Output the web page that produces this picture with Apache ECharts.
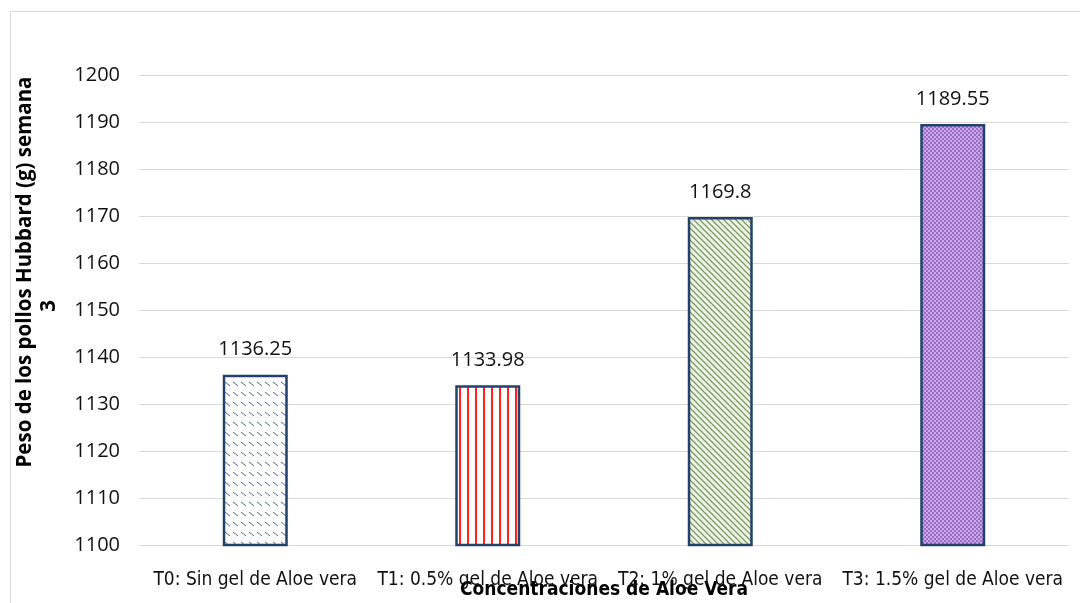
<!DOCTYPE html>
<html>
<head>
<meta charset="utf-8">
<script src="https://cdn.jsdelivr.net/npm/echarts@6/dist/echarts.min.js"></script>
<style>
  html, body { margin: 0; padding: 0; background: #fff; }
  #chart { width: 1080px; height: 603px; }
</style>
</head>
<body>
<div id="chart"></div>
<script>
// datos
var categorias = ['T0: Sin gel de Aloe vera', 'T1: 0.5% gel de Aloe vera', 'T2: 1% gel de Aloe vera', 'T3: 1.5% gel de Aloe vera'];
var pesos = [1136.25, 1133.98, 1169.8, 1189.55];
var etiquetas = ['1136.25', '1133.98', '1169.8', '1189.55'];

// patrones de relleno (como en Excel)
function patron(w, h, draw) {
    var c = document.createElement('canvas');
    c.width = w; c.height = h;
    var ctx = c.getContext('2d');
    draw(ctx);
    return { image: c, repeat: 'repeat' };
}
var pT0 = patron(8, 10, function (ctx) {
    ctx.fillStyle = '#ffffff'; ctx.fillRect(0, 0, 8, 10);
    ctx.strokeStyle = '#4a6a96'; ctx.lineWidth = 1;
    ctx.beginPath(); ctx.moveTo(1, 2); ctx.lineTo(6, 6); ctx.stroke();
});
var pT1 = patron(8, 8, function (ctx) {
    ctx.fillStyle = '#ffffff'; ctx.fillRect(0, 0, 8, 8);
    ctx.fillStyle = '#ff2020'; ctx.fillRect(3, 0, 2, 8);
});
var pT2 = patron(6, 6, function (ctx) {
    ctx.fillStyle = '#eef5e4'; ctx.fillRect(0, 0, 6, 6);
    ctx.strokeStyle = '#7d9a68'; ctx.lineWidth = 1.3;
    ctx.beginPath(); ctx.moveTo(0, 0); ctx.lineTo(6, 6); ctx.stroke();
    ctx.beginPath(); ctx.moveTo(-3, 3); ctx.lineTo(3, 9); ctx.stroke();
    ctx.beginPath(); ctx.moveTo(3, -3); ctx.lineTo(9, 3); ctx.stroke();
});
var pT3 = patron(4, 4, function (ctx) {
    ctx.fillStyle = '#c9a8e6'; ctx.fillRect(0, 0, 4, 4);
    ctx.fillStyle = '#9a6cc8';
    ctx.fillRect(0, 0, 2, 2); ctx.fillRect(2, 2, 2, 2);
});
var rellenos = [pT0, pT1, pT2, pT3];

var chart = echarts.init(document.getElementById('chart'));
var option = {
    backgroundColor: '#ffffff',
    animation: false,
    grid: { left: 139, right: 11, top: 75, bottom: 58, outerBoundsMode: 'none', containLabel: false },
    graphic: [
        { type: 'rect', left: 8, top: 9, shape: { width: 1200, height: 700 },
          style: { fill: 'none', stroke: '#d9d9d9', lineWidth: 1 } },
        { type: 'text', x: 25, y: 272, rotation: Math.PI / 2,
          style: { text: 'Peso de los pollos Hubbard (g) semana', font: 'bold 20.5px "Open Sans"', fill: '#000', align: 'center', verticalAlign: 'middle' } },
        { type: 'text', x: 49, y: 306, rotation: Math.PI / 2,
          style: { text: '3', font: 'bold 20.5px "Open Sans"', fill: '#000', align: 'center', verticalAlign: 'middle' } }
    ],
    xAxis: {
        type: 'category',
        data: categorias,
        axisTick: { show: false },
        axisLine: { show: false },
        axisLabel: { interval: 0, color: '#111', fontSize: 19, fontFamily: 'DejaVu Sans Condensed', margin: 26 },
        name: 'Concentraciones de Aloe Vera',
        nameLocation: 'middle',
        nameGap: 36,
        nameMoveOverlap: false,
        nameTextStyle: { fontSize: 19, fontWeight: 'bold', color: '#000', fontFamily: 'DejaVu Sans Condensed' }
    },
    yAxis: {
        type: 'value',
        min: 1100,
        max: 1200,
        interval: 10,
        axisLine: { show: false },
        axisTick: { show: false },
        splitLine: { lineStyle: { color: '#d9d9d9', width: 1 } },
        axisLabel: { color: '#111', fontSize: 20, fontFamily: 'Open Sans', margin: 19,
            formatter: function (v) { return String(v); } }
    },
    series: [{
        type: 'bar',
        barWidth: 65,
        data: pesos.map(function (v, i) {
            return { value: v, itemStyle: { color: rellenos[i] } };
        }),
        itemStyle: { borderColor: '#22416b', borderWidth: 2.5 },
        label: {
            show: true, position: 'top', distance: 15,
            color: '#111', fontSize: 20, fontFamily: 'Open Sans',
            formatter: function (p) { return etiquetas[p.dataIndex]; }
        }
    }]
};
chart.setOption(option);
</script>
</body>
</html>
